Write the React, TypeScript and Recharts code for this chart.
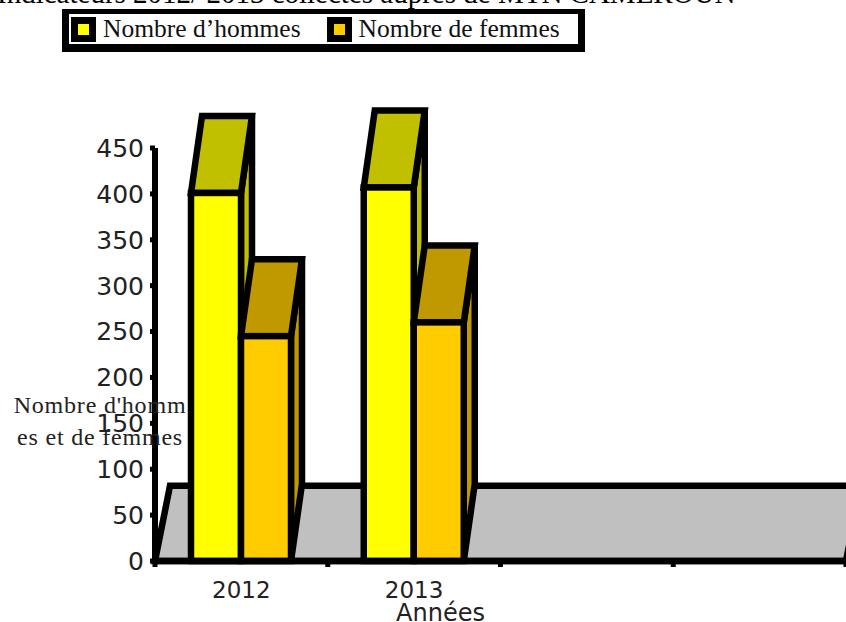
import React from "react";
import { BarChart, Bar, XAxis, YAxis, Legend, ReferenceArea } from "recharts";

const years = ["2012", "2013", "", ""];
const men = [401, 407, null, null];
const women = [245, 260, null, null];
const yTicks = [0, 50, 100, 150, 200, 250, 300, 350, 400, 450];
const bandEdges = [0, 1, 2, 3, 4];
const floorDepth = 82;

const data = years.map((year, i) => ({ slot: i, year, men: men[i], women: women[i] }));

const DEPTH_X = 11;
const DEPTH_Y = 77;
const STROKE = 6.5;

const legendItems = [
  { label: "Nombre d’hommes", color: "#FFFF00" },
  { label: "Nombre de femmes", color: "#FFCC00" },
];

// extruded bar, the library gives the front face
const Bar3D = (props: any) => {
  const { x, y, width, height, front, top, side } = props;
  if (!height) return null;
  const bottom = y + height;
  return (
    <g stroke="#000" strokeWidth={STROKE} strokeLinejoin="miter">
      <path
        d={`M${x + width},${y} L${x + width + DEPTH_X},${y - DEPTH_Y} L${x + width + DEPTH_X},${bottom - DEPTH_Y} L${x + width},${bottom} Z`}
        fill={side}
      />
      <path
        d={`M${x},${y} L${x + DEPTH_X},${y - DEPTH_Y} L${x + width + DEPTH_X},${y - DEPTH_Y} L${x + width},${y} Z`}
        fill={top}
      />
      <rect x={x} y={y} width={width} height={height} fill={front} />
    </g>
  );
};

const Floor = (props: any) => {
  const { x, y, width, height } = props;
  const bottom = y + height;
  return (
    <path
      d={`M${x},${bottom} L${x + 15},${y} L${x + width + 15},${y} L${x + width},${bottom} Z`}
      fill="#C0C0C0"
      stroke="#000"
      strokeWidth={STROKE}
    />
  );
};

const NoLabel = () => <g />;

const LegendBox = () => (
  <div
    style={{
      boxSizing: "border-box",
      width: 523,
      height: 43,
      borderStyle: "solid",
      borderColor: "#000",
      borderWidth: "5px 7px 8px 7px",
      background: "#fff",
      display: "flex",
      alignItems: "center",
      paddingLeft: 2,
      fontFamily: "'Liberation Serif', serif",
      fontSize: 25.5,
      color: "#111",
    }}
  >
    {legendItems.map((item) => (
      <div key={item.label} style={{ display: "flex", alignItems: "center", marginRight: 26 }}>
        <span
          style={{
            boxSizing: "border-box",
            width: 25,
            height: 25,
            border: "7px solid #000",
            background: item.color,
            marginRight: 7,
          }}
        />
        <span style={{ whiteSpace: "nowrap" }}>{item.label}</span>
      </div>
    ))}
  </div>
);

const App = () => {
  return (
    <div style={{ position: "absolute", left: 0, top: 0, width: 846, height: 622, overflow: "hidden", background: "#fff" }}>
      <div
        style={{
          position: "absolute",
          left: -3,
          top: -23,
          whiteSpace: "nowrap",
          fontFamily: "'Liberation Serif', serif",
          fontSize: 29,
          color: "#000",
        }}
      >
        Indicateurs 2012/ 2013 collectés auprès de MTN CAMEROUN
      </div>
      <BarChart
        width={846}
        height={622}
        data={data}
        margin={{ top: 148, right: 0, bottom: 0, left: 0 }}
        barCategoryGap={37}
        barGap={0}
        style={{ position: "absolute", left: 0, top: 0 }}
      >
        <XAxis
          xAxisId="edges"
          dataKey="slot"
          type="number"
          domain={[0, 4]}
          ticks={bandEdges}
          height={8}
          tick={<NoLabel />}
          tickSize={6}
          axisLine={{ stroke: "#000", strokeWidth: 6.5 }}
          tickLine={{ stroke: "#000", strokeWidth: 5 }}
        />
        <XAxis
          xAxisId="years"
          dataKey="year"
          height={53}
          interval={0}
          axisLine={false}
          tickLine={false}
          tick={{ fill: "#222", fontSize: 23, fontFamily: "'DejaVu Sans', sans-serif" }}
          tickMargin={7}
          label={{
            value: "Années",
            position: "insideBottom",
            dx: -60,
            dy: 4,
            fill: "#222",
            fontSize: 24,
            fontFamily: "'DejaVu Sans', sans-serif",
          }}
        />
        <YAxis
          width={155}
          domain={[0, 450]}
          ticks={yTicks}
          interval={0}
          tick={{ fill: "#222", fontSize: 25, fontFamily: "'DejaVu Sans', sans-serif" }}
          tickSize={5}
          tickMargin={6}
          axisLine={{ stroke: "#000", strokeWidth: 6 }}
          tickLine={{ stroke: "#000", strokeWidth: 5 }}
        />
        <ReferenceArea xAxisId="years" y1={0} y2={floorDepth} shape={<Floor />} />
        <Legend
          verticalAlign="middle"
          align="center"
          content={<LegendBox />}
          wrapperStyle={{ left: 62, top: 9, width: 523 }}
        />
        <Bar
          xAxisId="years"
          dataKey="men"
          name="Nombre d’hommes"
          barSize={50}
          isAnimationActive={false}
          shape={<Bar3D front="#FFFF00" top="#C0C000" side="#C0C000" />}
        />
        <Bar
          xAxisId="years"
          dataKey="women"
          name="Nombre de femmes"
          barSize={50}
          isAnimationActive={false}
          shape={<Bar3D front="#FFCC00" top="#C09800" side="#C09800" />}
        />
      </BarChart>
      <div
        style={{
          position: "absolute",
          left: 0,
          top: 389,
          width: 200,
          textAlign: "center",
          fontFamily: "'Liberation Serif', serif",
          fontSize: 24,
          letterSpacing: 0.8,
          lineHeight: "32px",
          color: "#222",
        }}
      >
        Nombre d'homm
        <br />
        es et de femmes
      </div>
    </div>
  );
};

export default App;
